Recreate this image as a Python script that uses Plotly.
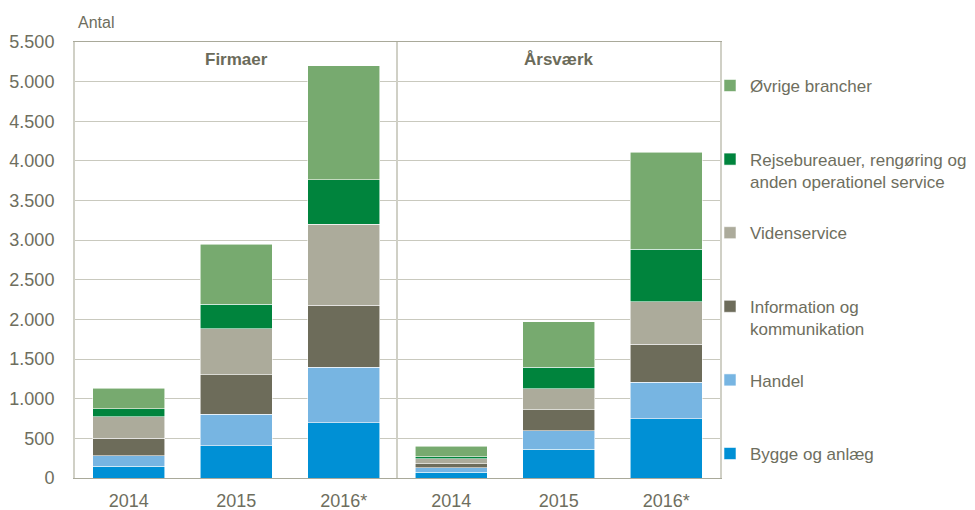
import plotly.graph_objects as go
from plotly.subplots import make_subplots

years = ["2014", "2015", "2016*"]
panels = ["Firmaer", "Årsværk"]

series_names = [
    "Bygge og anlæg",
    "Handel",
    "Information og<br>kommunikation",
    "Videnservice",
    "Rejsebureauer, rengøring og<br>anden operationel service",
    "Øvrige brancher",
]
series_colors = ["#0090D5", "#77B5E2", "#6D6C5A", "#ACAB9B", "#00843D", "#77AA6F"]

# Firmaer (segment sizes, bottom to top)
firmaer_bygge = [150, 410, 700]
firmaer_handel = [130, 395, 700]
firmaer_info = [220, 495, 780]
firmaer_viden = [275, 580, 1020]
firmaer_rejse = [100, 315, 560]
firmaer_ovrige = [255, 755, 1440]

# Årsværk (segment sizes, bottom to top)
aarsvaerk_bygge = [75, 360, 745]
aarsvaerk_handel = [55, 235, 465]
aarsvaerk_info = [50, 265, 480]
aarsvaerk_viden = [65, 265, 535]
aarsvaerk_rejse = [25, 270, 660]
aarsvaerk_ovrige = [130, 575, 1225]

y_ticks = [0, 500, 1000, 1500, 2000, 2500, 3000, 3500, 4000, 4500, 5000, 5500]

firmaer = [firmaer_bygge, firmaer_handel, firmaer_info, firmaer_viden, firmaer_rejse, firmaer_ovrige]
aarsvaerk = [aarsvaerk_bygge, aarsvaerk_handel, aarsvaerk_info, aarsvaerk_viden, aarsvaerk_rejse, aarsvaerk_ovrige]

TXT = "#6E6E5E"
GRID = "#C9C9BE"
FONT = "Liberation Sans, Arial, sans-serif"

fig = make_subplots(rows=1, cols=2, shared_yaxes=True, horizontal_spacing=0)

n = len(series_names)
for col, data in ((1, firmaer), (2, aarsvaerk)):
    for i, (name, color, vals) in enumerate(zip(series_names, series_colors, data)):
        label = name if ("<br>" in name or i == 0) else name + "<br> "
        fig.add_trace(
            go.Bar(
                x=years, y=vals, name=label,
                marker=dict(color=color, line=dict(color="rgba(255,255,255,0.7)", width=0.8)),
                legendgroup=str(i), legendrank=(n - i) * 100, showlegend=(col == 1),
            ),
            row=1, col=col,
        )

fig.update_layout(
    barmode="stack",
    bargap=0.33,
    width=975, height=510,
    margin=dict(l=75, r=255, t=42, b=32, autoexpand=False),
    paper_bgcolor="white", plot_bgcolor="white",
    separators=",.",
    font=dict(family=FONT, size=17, color=TXT),
    legend=dict(
        x=0.9845, xanchor="left", y=0.9405, yanchor="top",
        traceorder="grouped", tracegroupgap=26.4,
        valign="top", font=dict(size=17, color=TXT),
        itemwidth=30, bgcolor="rgba(0,0,0,0)",
    ),
)

for ax in ("xaxis", "xaxis2"):
    fig.layout[ax].update(
        showline=True, linecolor="#A9A99A", linewidth=1, mirror=True,
        showgrid=False, ticks="", tickfont=dict(size=18, color=TXT),
        ticklabelstandoff=6,
    )

fig.update_yaxes(
    range=[0, 5500], tickvals=y_ticks, tickformat=",d",
    showgrid=True, gridcolor=GRID, gridwidth=1,
    showline=True, linecolor="#D0D0C6", linewidth=2,
    ticks="", zeroline=False, tickfont=dict(size=18, color=TXT),
)
fig.layout.yaxis.update(mirror=False, ticklabelstandoff=15)
fig.layout.yaxis2.update(mirror=True)

for col, title in zip((1, 2), panels):
    xr = "x domain" if col == 1 else "x2 domain"
    fig.add_annotation(
        x=0.5, xref=xr, y=5280, yref="y", text="<b>" + title + "</b>",
        showarrow=False, font=dict(size=17, color="#6B6B5A", family=FONT),
    )

fig.add_annotation(
    x=0, xref="paper", y=1, yref="paper", xanchor="left", yanchor="bottom",
    xshift=1, yshift=9, text="Antal", showarrow=False,
    font=dict(size=16, color=TXT, family=FONT),
)

fig.write_html(
    "out.html",
    config={"displayModeBar": False},
    post_script="document.body.style.margin='0';document.body.style.overflow='hidden';",
)
